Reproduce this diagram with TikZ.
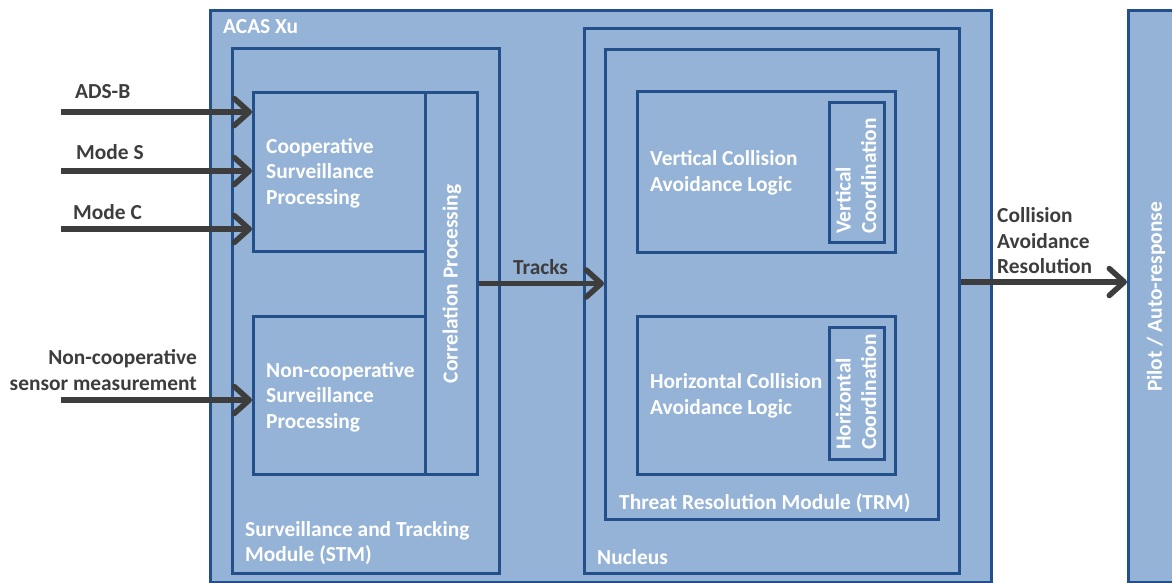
\documentclass[tikz,border=0pt]{standalone}
\usepackage{fontspec}
\setmainfont{Carlito}
\usetikzlibrary{arrows.meta}
\definecolor{fillc}{HTML}{95B3D7}
\definecolor{bdr}{HTML}{23508A}
\definecolor{arrc}{HTML}{3D3D3D}
\begin{document}
\begin{tikzpicture}[x=1pt,y=-1pt,
  box/.style={draw=bdr,fill=fillc,line width=3pt,inner sep=0pt,anchor=north west},
  intext/.style={text=white,font=\fontsize{21.4}{25.5}\selectfont\bfseries,inner sep=0pt,align=left},
  outtext/.style={text=arrc,font=\fontsize{21.4}{25.5}\selectfont\bfseries,inner sep=0pt},
  arr/.style={draw=arrc,line width=5.5pt,-{Straight Barb[length=15pt,width=27pt,line cap=round,line join=round]}}]
\useasboundingbox (0,0) rectangle (1172,582);
\fill[white] (0,0) rectangle (1172,582);
% boxes
\node[box,minimum width=781pt,minimum height=572pt] (acas) at (209,9) {};
\node[box,minimum width=267pt,minimum height=525pt] (stm) at (231,47) {};
\node[box,minimum width=172pt,minimum height=159pt] (coop) at (252,91) {};
\node[box,minimum width=52pt,minimum height=382pt] (corr) at (424,91) {};
\node[box,minimum width=172pt,minimum height=158pt] (ncoop) at (252,315) {};
\node[box,minimum width=375pt,minimum height=545pt] (nucleus) at (583,27) {};
\node[box,minimum width=333pt,minimum height=470pt] (trm) at (604,48) {};
\node[box,minimum width=258pt,minimum height=161pt] (vca) at (636,90) {};
\node[box,minimum width=55pt,minimum height=140pt] (vc) at (828,101) {};
\node[box,minimum width=258pt,minimum height=158pt] (hca) at (636,315) {};
\node[box,minimum width=55pt,minimum height=132pt] (hc) at (828,326) {};
\node[box,minimum width=60pt,minimum height=572pt] (pilot) at (1127,9) {};
% box texts
\node[intext,anchor=west] (tacas) at (223,27) {ACAS Xu};
\node[intext,anchor=west] (tcoop) at (266,173) {Cooperative\\Surveillance\\Processing};
\node[intext,anchor=west] (tncoop) at (266,397) {Non-cooperative\\Surveillance\\Processing};
\node[intext,rotate=90] (tcorr) at (452,284) {Correlation Processing};
\node[intext,anchor=west] (tstm) at (245,543) {Surveillance and Tracking\\Module (STM)};
\node[intext,anchor=west] (tvca) at (650,173) {Vertical Collision\\Avoidance Logic};
\node[intext,rotate=90] (tvc) at (856,176) {Vertical\\Coordination};
\node[intext,anchor=west] (thca) at (650,396) {Horizontal Collision\\Avoidance Logic};
\node[intext,rotate=90] (thc) at (856,392) {Horizontal\\Coordination};
\node[intext,anchor=west] (ttrm) at (619,503) {Threat Resolution Module (TRM)};
\node[intext,anchor=west] (tnuc) at (597,557) {Nucleus};
\node[intext,rotate=90] (tpilot) at (1156,297) {Pilot / Auto-response};
% outside labels
\node[outtext,anchor=west] (ladsb) at (75,92) {ADS-B};
\node[outtext,anchor=west] (lmodes) at (76,152) {Mode S};
\node[outtext,anchor=west] (lmodec) at (73,212) {Mode C};
\node[outtext,anchor=east,align=right] (lnc) at (197,370) {Non-cooperative\\sensor measurement};
\node[outtext,anchor=west] (ltracks) at (513,267) {Tracks};
\node[outtext,anchor=west,align=left] (lcar) at (997,241) {Collision\\Avoidance\\Resolution};
% arrows
\coordinate (s1) at (61,112);
\coordinate (s2) at (61,171);
\coordinate (s3) at (61,229);
\coordinate (s4) at (61,400);
\coordinate (cy) at (0,282);
\draw[arr] (s1) -- (s1 -| coop.west);
\draw[arr] (s2) -- (s2 -| coop.west);
\draw[arr] (s3) -- (s3 -| coop.west);
\draw[arr] (s4) -- (s4 -| ncoop.west);
\draw[arr] (corr.east) -- (corr.east -| trm.west);
\draw[arr] (cy -| nucleus.east) -- (cy -| pilot.west);
\end{tikzpicture}
\end{document}
